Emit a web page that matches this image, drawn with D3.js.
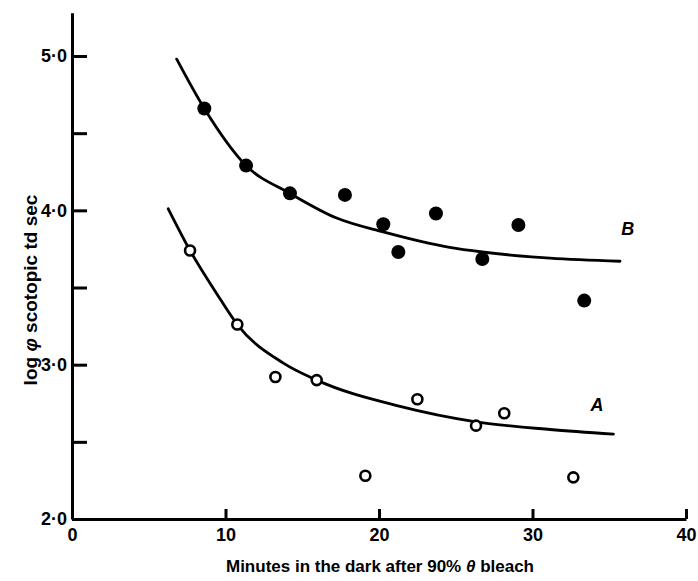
<!DOCTYPE html>
<html>
<head>
<meta charset="utf-8">
<script src="https://cdn.jsdelivr.net/npm/d3@7"></script>
<style>
  body { margin: 0; background: #fff; }
  svg text { font-family: "Liberation Sans", Arial, sans-serif; font-weight: bold; fill: #000; }
</style>
</head>
<body>
<svg class="chart" width="698" height="581"></svg>
<script>
// filled circles (curve B)
var seriesB = [[8.62,4.66],[11.34,4.29],[14.2,4.11],[17.78,4.10],[20.28,3.91],[21.26,3.73],
               [23.71,3.98],[26.73,3.685],[29.08,3.905],[33.37,3.415]];
// open circles (curve A)
var seriesA = [[7.69,3.74],[10.77,3.26],[13.25,2.92],[15.94,2.90],[19.11,2.28],
               [22.5,2.776],[26.32,2.605],[28.16,2.685],[32.66,2.27]];
// hand drawn fitted curves
var curveB = [[6.82,4.98],[8.62,4.66],[11.34,4.29],[14.2,4.11],[17.24,3.95],[20.28,3.86],
              [24.6,3.76],[26.73,3.73],[31.14,3.69],[35.7,3.67]];
var curveA = [[6.27,4.01],[7.69,3.74],[9.43,3.46],[10.77,3.26],[13.77,3.01],[15.94,2.90],
              [21.37,2.73],[26.32,2.63],[31.14,2.58],[35.27,2.55]];

var xTicks = [0, 10, 20, 30, 40];
var xTickLabels = ["0", "10", "20", "30", "40"];
var yTicks = [2, 2.5, 3, 3.5, 4, 4.5, 5];
var yTickLabels = ["2·0", "", "3·0", "", "4·0", "", "5·0"];
var curveLabels = [{text: "B", at: [36.2, 3.88]}, {text: "A", at: [34.2, 2.74]}];

var svg = d3.select("svg.chart");

var x = d3.scaleLinear().domain([0, 40]).range([72, 686]);
var y = d3.scaleLinear().domain([2, 5.28]).range([519, 12.8]);

var line = d3.line()
    .x(function(d) { return x(d[0]); })
    .y(function(d) { return y(d[1]); })
    .curve(d3.curveMonotoneX);

// axes
var gx = svg.append("g")
    .attr("transform", "translate(0," + y(2) + ")")
    .call(d3.axisBottom(x)
        .tickValues(xTicks)
        .tickFormat(function(d, i) { return xTickLabels[i]; })
        .tickSizeInner(-10).tickSizeOuter(0).tickPadding(8));

var gy = svg.append("g")
    .attr("transform", "translate(" + x(0) + ",0)")
    .call(d3.axisLeft(y)
        .tickValues(yTicks)
        .tickFormat(function(d, i) { return yTickLabels[i]; })
        .tickSizeInner(-15).tickSizeOuter(0).tickPadding(5));

[gx, gy].forEach(function(g) {
  g.select(".domain").attr("stroke", "#000").attr("stroke-width", 3);
  g.selectAll(".tick line").attr("stroke", "#000").attr("stroke-width", 3);
  g.selectAll(".tick text").attr("font-size", 18).attr("font-family", null);
});
gx.selectAll(".tick text").attr("dy", "0.8em");

// fitted curves
[curveB, curveA].forEach(function(c) {
  svg.append("path")
    .datum(c)
    .attr("fill", "none")
    .attr("stroke", "#000")
    .attr("stroke-width", 2.8)
    .attr("stroke-linecap", "round")
    .attr("d", line);
});

// points
svg.append("g").selectAll("circle")
  .data(seriesB)
  .join("circle")
    .attr("cx", function(d) { return x(d[0]); })
    .attr("cy", function(d) { return y(d[1]); })
    .attr("r", 7)
    .attr("fill", "#000");

svg.append("g").selectAll("circle")
  .data(seriesA)
  .join("circle")
    .attr("cx", function(d) { return x(d[0]); })
    .attr("cy", function(d) { return y(d[1]); })
    .attr("r", 5)
    .attr("fill", "#fff")
    .attr("stroke", "#000")
    .attr("stroke-width", 2.6);

// curve labels
svg.append("g").selectAll("text")
  .data(curveLabels)
  .join("text")
    .attr("x", function(d) { return x(d.at[0]); })
    .attr("y", function(d) { return y(d.at[1]); })
    .attr("text-anchor", "middle")
    .attr("dy", "0.35em")
    .attr("font-size", 18)
    .attr("font-style", "italic")
    .text(function(d) { return d.text; });

// axis titles
var xt = svg.append("text")
    .attr("x", 380).attr("y", 572)
    .attr("text-anchor", "middle")
    .attr("font-size", 17);
xt.append("tspan").text("Minutes in the dark after 90% ");
xt.append("tspan").attr("font-style", "italic").text("θ");
xt.append("tspan").text(" bleach");

var yt = svg.append("text")
    .attr("transform", "translate(37,290) rotate(-90)")
    .attr("text-anchor", "middle")
    .attr("font-size", 19);
yt.append("tspan").text("log ");
yt.append("tspan").attr("font-style", "italic").text("φ");
yt.append("tspan").text(" scotopic td sec");
</script>
</body>
</html>
